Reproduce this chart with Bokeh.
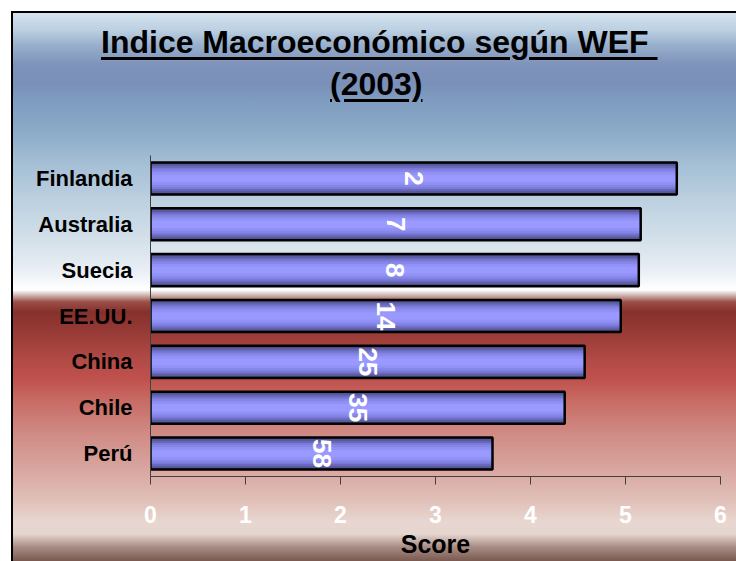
import math
from bokeh.plotting import figure
from bokeh.layouts import column
from bokeh.models import ColumnDataSource, FixedTicker, Range1d, FactorRange, Div
from bokeh.embed import file_html
from bokeh.resources import INLINE
from bokeh.core.properties import value

# ---- data ----
countries = ["Finlandia", "Australia", "Suecia", "EE.UU.", "China", "Chile", "Perú"]
scores = [5.54, 5.16, 5.14, 4.95, 4.57, 4.36, 3.60]
ranks = ["2", "7", "8", "14", "25", "35", "58"]
x_ticks = [0, 1, 2, 3, 4, 5, 6]
title_line1 = "Indice Macroeconómico según WEF "
title_line2 = "(2003)"
axis_title = "Score"

FONT = "Liberation Sans"

src = ColumnDataSource(dict(country=countries, score=scores, rank=ranks,
                            mid=[s / 2 for s in scores]))

# ---- title block (HTML, underlined) ----
ul = ("position:absolute;line-height:42px;white-space:pre;text-decoration:underline;"
      "text-decoration-thickness:3px;text-underline-offset:4px;")
title_html = (
    "<div style=\"position:relative;width:736px;height:140px;"
    "font-family:'Liberation Sans',Arial,sans-serif;font-weight:bold;font-size:32px;color:#000;\">"
    f"<div style=\"{ul}left:101px;top:21px;\">{title_line1}</div>"
    f"<div style=\"{ul}left:330px;top:63px;\">{title_line2}</div>"
    "</div>")
head = Div(text=title_html, width=736, height=140, margin=0)

# ---- chart ----
p = figure(width=736, height=421,
           y_range=FactorRange(factors=list(reversed(countries)), range_padding=0),
           x_range=Range1d(0, 6),
           output_backend="svg", toolbar_location=None,
           min_border_left=150, min_border_right=16,
           min_border_top=15, min_border_bottom=85, margin=0)
p.background_fill_alpha = 0
p.border_fill_alpha = 0
p.outline_line_color = None

# bars with a vertical shading built from stacked layers
layers = [(0.70, "#4a4a85"), (0.62, "#5a5aa0"), (0.54, "#6a6abc"), (0.46, "#7a7ad6"),
          (0.38, "#8686e8"), (0.28, "#9090f5"), (0.16, "#9999ff")]
for h, c in layers:
    p.hbar(y="country", left=0, right="score", height=h, source=src,
           fill_color=c, line_color=None)
p.hbar(y="country", left=0, right="score", height=0.70, source=src,
       fill_color=None, line_color="black", line_width=2.5)

p.text(x="mid", y="country", text="rank", source=src, angle=-math.pi / 2,
       text_align="center", text_baseline="middle", text_color="white",
       text_font=value(FONT), text_font_style="bold", text_font_size="26px")

p.xgrid.grid_line_color = None
p.ygrid.grid_line_color = None

xa = p.xaxis[0]
xa.ticker = FixedTicker(ticks=x_ticks)
xa.axis_line_color = "#404040"
xa.major_tick_line_color = "#404040"
xa.major_tick_out = 8
xa.major_tick_in = 0
xa.minor_tick_line_color = None
xa.major_label_text_color = "white"
xa.major_label_text_font = FONT
xa.major_label_text_font_style = "bold"
xa.major_label_text_font_size = "23px"
xa.major_label_standoff = 21
xa.axis_label = axis_title
xa.axis_label_text_font = FONT
xa.axis_label_text_font_style = "bold"
xa.axis_label_text_font_size = "25px"
xa.axis_label_text_color = "black"
xa.axis_label_standoff = 4

ya = p.yaxis[0]
ya.axis_line_color = "#404040"
ya.major_tick_line_color = None
ya.minor_tick_line_color = None
ya.major_label_text_color = "black"
ya.major_label_text_font = FONT
ya.major_label_text_font_style = "bold"
ya.major_label_text_font_size = "22px"
ya.major_label_standoff = 12

# ---- background gradient for the whole block ----
bg_main = ("linear-gradient(to bottom, #ffffff 0px, #ffffff 11px, #000000 11px, #000000 13px, "
           "#d4e3ee 13px, #bcd0e2 30px, #98b0cc 45px, #7e92ba 65px, #7a90b8 85px, "
           "#7f9cc0 100px, #8aaac8 130px, #a2bdd4 160px, #bcd0e0 200px, #d4e0ea 240px, "
           "#e8eef4 270px, #fcfdfe 287px, #ffffff 290px, #d0b8b4 295px, #9c4e48 302px, "
           "#86302c 312px, #9a3c38 335px, #b24a46 360px, #c0524e 380px, #c86a64 400px, "
           "#d08a84 433px, #d8a49e 467px, #e0c0b8 500px, #e8d6d0 522px, #e6d6d0 534px, "
           "#a88c84 547px, #7a5a50 561px)")
bg_left = ("linear-gradient(to right, #ffffff 0px, #ffffff 11px, #000000 11px, "
           "#000000 13px, transparent 13px)")
bg_top = "linear-gradient(to bottom, #ffffff 0px, #ffffff 11px, transparent 11px)"

layout = column(head, p, spacing=0,
                styles={"background": f"{bg_top}, {bg_left}, {bg_main}"})

open("out.html", "w").write(file_html(layout, INLINE))
